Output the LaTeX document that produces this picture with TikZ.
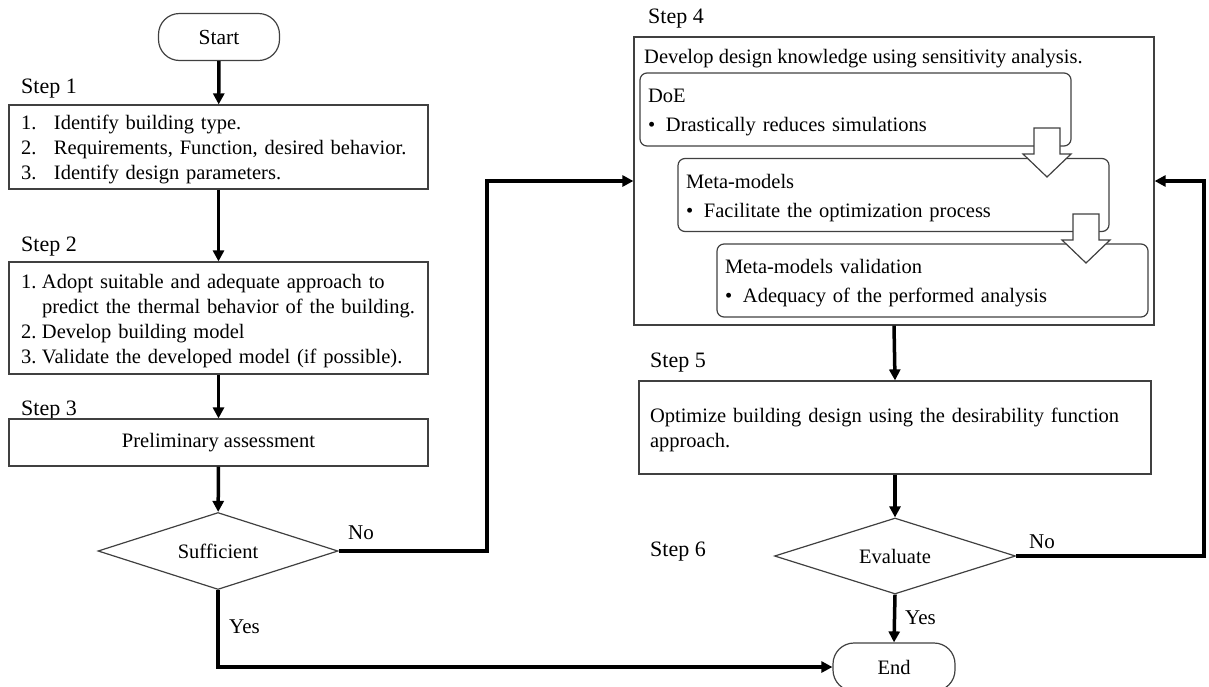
\documentclass[tikz,border=0pt]{standalone}
\usepackage{fontspec}
\setmainfont{Liberation Serif}
\usetikzlibrary{arrows.meta,shapes.geometric,positioning}

\begin{document}
\begin{tikzpicture}[x=1pt,y=-1pt,
    txt/.style={font=\fontsize{20.5}{25}\selectfont},
    steplabel/.style={font=\fontsize{22}{26}\selectfont,anchor=west,inner sep=0pt},
    yesno/.style={font=\fontsize{21}{25}\selectfont,anchor=west,inner sep=0pt},
    box/.style={draw=black!75,line width=1.2pt,txt,inner sep=0pt},
    listbox/.style={box,text width=395pt,inner xsep=12pt,align=left,execute at begin node={\rule{0pt}{20pt}}},
    subbox/.style={box,rounded corners=7pt,minimum height=73pt,text width=415pt,inner xsep=8pt,align=left,
        font=\fontsize{20.5}{29}\selectfont,execute at begin node={\rule{0pt}{20pt}}},
    terminal/.style={box,rounded corners=21pt,minimum width=121pt,minimum height=47pt,font=\fontsize{21.5}{25}\selectfont},
    decision/.style={box,diamond,aspect=3,minimum width=240pt,minimum height=77pt},
    flow/.style={line width=3.5pt,-{Triangle[length=11pt,width=11pt]}},
    hollow/.style={draw=black!75,line width=1.2pt,fill=white}]

    \useasboundingbox (0,0) rectangle (1209,686);

    % left column
    \node [terminal] (start) at (219,37) {Start};
    \node [steplabel] (lab1) at (21,89) {Step 1};
    \node [listbox,minimum height=84pt] (ident) at (218.5,147)
        {\makebox[33pt][l]{1.}Identify building type.\\
         \makebox[33pt][l]{2.}Requirements, Function, desired behavior.\\
         \makebox[33pt][l]{3.}Identify design parameters.};
    \node [steplabel] (lab2) at (21,247) {Step 2};
    \node [listbox,minimum height=112pt] (model) at (218.5,318)
        {\makebox[21pt][l]{1.}Adopt suitable and adequate approach to\\
         \hspace*{21pt}predict the thermal behavior of the building.\\
         \makebox[21pt][l]{2.}Develop building model\\
         \makebox[21pt][l]{3.}Validate the developed model (if possible).};
    \node [steplabel] (lab3) at (21,411) {Step 3};
    \node [box,minimum width=419pt,minimum height=47pt] (prelim) at (218.5,442.5) {Preliminary assessment};
    \node [decision] (suff) at (218,551) {Sufficient};
    \coordinate (nobend) at (487,551);

    % step 4: sensitivity analysis
    \node [steplabel] (lab4) at (648,19) {Step 4};
    \node [box,minimum width=520pt,minimum height=288pt] (know) at (894,181) {};
    \node [txt,anchor=west,inner sep=0pt] (knowtxt) at (644,59) {Develop design knowledge using sensitivity analysis.};
    \node [subbox] (doe) at (855.5,109.5)
        {DoE\\ \makebox[18pt][l]{\textbullet}Drastically reduces simulations};
    \node [subbox] (meta) at (893.5,195)
        {Meta-models\\ \makebox[18pt][l]{\textbullet}Facilitate the optimization process};
    \node [subbox] (valid) at (932.5,280.5)
        {Meta-models validation\\ \makebox[18pt][l]{\textbullet}Adequacy of the performed analysis};
    \foreach \ax/\ay in {1047/128, 1086/214}
        \draw [hollow] (\ax-13,\ay) -- (\ax+13,\ay) -- (\ax+13,\ay+26) -- (\ax+24,\ay+26)
            -- (\ax,\ay+49) -- (\ax-24,\ay+26) -- (\ax-13,\ay+26) -- cycle;

    % steps 5 and 6
    \node [steplabel] (lab5) at (650,363) {Step 5};
    \node [box,minimum width=512pt,minimum height=93pt,text width=490pt,inner xsep=11pt,align=left,
        execute at begin node={\rule{0pt}{20pt}}] (opt) at (895,427.5)
        {Optimize building design using the desirability function\\approach.};
    \node [steplabel] (lab6) at (650,552) {Step 6};
    \node [decision,minimum width=241pt,minimum height=76pt] (eval) at (895,556) {Evaluate};
    \node [terminal,minimum width=122pt,minimum height=48pt,font=\fontsize{20.5}{25}\selectfont] (end) at (894,667) {End};
    \coordinate (back) at (1204,181);

    % connectors
    \draw [flow] (start) -- (ident);
    \draw [flow] (ident) -- (model);
    \draw [flow] (model) -- (prelim);
    \draw [flow] (prelim) -- (suff);
    \draw [flow] (suff.east) -- (nobend) |- (know.west);
    \draw [flow] (suff.south) |- (end.west);
    \draw [flow] (know.south) -- (opt.north);
    \draw [flow] (opt.south) -- (eval.north);
    \draw [flow] (eval.east) -| (back) -- (know.east);
    \draw [flow] (eval.south) -- (end.north);

    \node [yesno] (no1) at (348,533) {No};
    \node [yesno] (yes1) at (229,627) {Yes};
    \node [yesno] (no2) at (1029,542) {No};
    \node [yesno] (yes2) at (905,618) {Yes};
\end{tikzpicture}
\end{document}
